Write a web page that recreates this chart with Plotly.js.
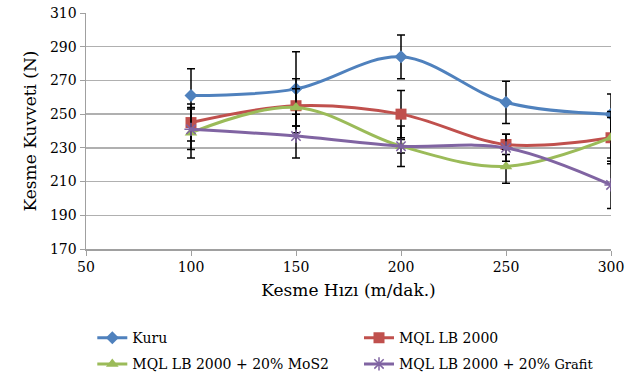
<!DOCTYPE html>
<html>
<head>
<meta charset="utf-8">
<script src="https://cdn.plot.ly/plotly-3.0.1.min.js"></script>
<style>html,body{margin:0;padding:0;background:#fff;}#chart{width:630px;height:382px;}</style>
</head>
<body>
<div id="chart"></div>
<script>
const speeds = [100, 150, 200, 250, 300];
const seriesNames = ["Kuru", "MQL LB 2000", "MQL LB 2000 + 20% MoS2", "MQL LB 2000 + 20% <span style='font-size:13px'>Grafit</span>"];
const kuru = [261, 265, 284, 257, 250];
const kuruErr = [16, 22, 13, 12.5, 12];
const mql = [245, 255, 250, 232, 236];
const mqlErr = [11, 16, 14, 6, 12];
const mos2 = [239, 254, 231, 219, 236];
const mos2Err = [15, 11, 12, 10, 15.5];
const grafit = [241, 237, 231, 230, 208];
const grafitErr = [12, 13, 4, 8, 14];

const colors = ["#4F81BD", "#C0504D", "#9BBB59", "#8064A2"];
const symbols = ["diamond", "square", "triangle-up", "asterisk-open"];
const sizes = [10, 11, 11, 11];
const legendIds = ["legend", "legend2", "legend", "legend2"];
const ys = [kuru, mql, mos2, grafit];
const errs = [kuruErr, mqlErr, mos2Err, grafitErr];

const traces = ys.map((y, i) => ({
  x: speeds, y: y, name: seriesNames[i], type: "scatter", mode: "lines+markers",
  legend: legendIds[i], legendgroup: "g" + i,
  line: {color: colors[i], width: 3, shape: "spline", smoothing: 1},
  marker: {symbol: symbols[i], size: sizes[i], color: colors[i],
           line: {color: colors[i], width: i === 3 ? 1.5 : 0}},
  error_y: {type: "data", array: errs[i], visible: true, color: "#000", thickness: 1.5, width: 4}
}));

const FONT = "DejaVu Serif";
const legendBase = {
  orientation: "v", yanchor: "top", xanchor: "left",
  font: {size: 14, family: FONT}, tracegroupgap: 5, itemwidth: 30,
  bgcolor: "rgba(0,0,0,0)"
};

const layout = {
  width: 630, height: 382,
  margin: {l: 86, r: 19, t: 13, b: 133, autoexpand: false},
  paper_bgcolor: "#fff", plot_bgcolor: "#fff",
  font: {family: FONT, color: "#000", size: 14},
  showlegend: true,
  xaxis: {
    range: [50, 300], dtick: 50, tick0: 50, showgrid: false, zeroline: false,
    showline: true, linecolor: "#A0A0A0", linewidth: 1.5,
    ticks: "outside", ticklen: 5, tickcolor: "#A0A0A0",
    tickfont: {size: 14, family: FONT},
    title: {text: "Kesme Hızı (m/dak.)", font: {size: 17, family: FONT}, standoff: 10}
  },
  yaxis: {
    range: [170, 310], dtick: 20, tick0: 170, showgrid: true, gridcolor: "#B0B0B0", gridwidth: 1.5,
    zeroline: false, showline: true, linecolor: "#A0A0A0", linewidth: 1.5,
    ticks: "outside", ticklen: 5, tickcolor: "#A0A0A0",
    tickfont: {size: 14, family: FONT},
    title: {text: "Kesme Kuvveti (N)", font: {size: 17, family: FONT}, standoff: 9}
  },
  legend: Object.assign({}, legendBase, {x: 0.012, y: -0.31}),
  legend2: Object.assign({}, legendBase, {x: 0.52, y: -0.31})
};

Plotly.newPlot("chart", traces, layout, {displayModeBar: false, staticPlot: true});
</script>
</body>
</html>
